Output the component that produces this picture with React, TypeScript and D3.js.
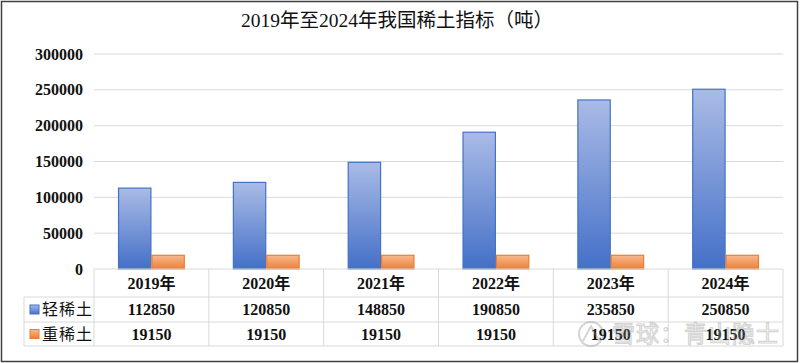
import React from 'react';
import * as d3 from 'd3';

const years = ['2019年', '2020年', '2021年', '2022年', '2023年', '2024年'];
const lightRE = [112850, 120850, 148850, 190850, 235850, 250850];
const heavyRE = [19150, 19150, 19150, 19150, 19150, 19150];
const seriesNames = ['轻稀土', '重稀土'];
const yTicks = [0, 50000, 100000, 150000, 200000, 250000, 300000];

const W = 800;
const H = 363;
const FONT = '"Liberation Serif", "Noto Sans CJK SC", serif';

const App: React.FC = () => {
  // plot frame
  const left = 94;
  const right = 783;
  const top = 54;
  const bottom = 269;

  const x = d3.scaleBand<string>().domain(years).range([left, right]);
  const inner = d3.scaleBand<string>().domain(seriesNames).range([0, x.bandwidth()]).paddingOuter(0.72).paddingInner(0);
  const y = d3.scaleLinear().domain([0, 300000]).range([bottom, top]);

  const rows = [
    { name: seriesNames[0], values: lightRE, color: '#4472c4' },
    { name: seriesNames[1], values: heavyRE, color: '#ed7d31' },
  ];

  // table rows
  const tHead = bottom;
  const tRow1 = 297;
  const tRow2 = 322;
  const tEnd = 346;
  const legendLeft = 24;
  const grid = '#d9d9d9';

  return (
    <svg width={W} height={H} style={{ position: 'absolute', left: 0, top: 0, background: '#fff' }} fontFamily={FONT}>
      <defs>
        <linearGradient id="gBlue" x1="0" y1="0" x2="0" y2="1">
          <stop offset="0%" stopColor="#aabbe6" />
          <stop offset="100%" stopColor="#4470c8" />
        </linearGradient>
        <linearGradient id="gOrange" x1="0" y1="0" x2="0" y2="1">
          <stop offset="0%" stopColor="#f6b98f" />
          <stop offset="100%" stopColor="#ee7f33" />
        </linearGradient>
      </defs>
      <rect x={1.5} y={1.5} width={W - 4} height={H - 3} fill="#fff" stroke="#404040" strokeWidth={1.5} />

      <text x={397} y={27} textAnchor="middle" fontSize={19.5} fill="#111">2019年至2024年我国稀土指标（吨）</text>

      {/* gridlines + y labels */}
      {yTicks.map(t => (
        <g key={t}>
          {t > 0 && <line x1={left} x2={right} y1={y(t)} y2={y(t)} stroke={grid} strokeWidth={1} />}
          <text x={83} y={y(t)} dy="0.35em" textAnchor="end" fontSize={16} fontWeight="bold" fill="#111">{t}</text>
        </g>
      ))}

      {/* bars */}
      {years.map((yr, i) => (
        <g key={yr} transform={`translate(${x(yr)},0)`}>
          {rows.map((r, j) => (
            <rect
              key={r.name}
              x={(inner(r.name) || 0) + 0.5}
              y={y(r.values[i])}
              width={inner.bandwidth() - 1}
              height={bottom - y(r.values[i])}
              fill={j === 0 ? 'url(#gBlue)' : 'url(#gOrange)'}
              stroke={r.color}
              strokeWidth={1.2}
            />
          ))}
        </g>
      ))}

      {/* data table */}
      <g stroke={grid} strokeWidth={1} fill="none">
        <line x1={left} x2={right} y1={tHead} y2={tHead} />
        <line x1={legendLeft} x2={right} y1={tRow1} y2={tRow1} />
        <line x1={legendLeft} x2={right} y1={tRow2} y2={tRow2} />
        <line x1={legendLeft} x2={right} y1={tEnd} y2={tEnd} />
        <line x1={legendLeft} x2={legendLeft} y1={tRow1} y2={tEnd} />
        {years.map(yr => (
          <line key={yr} x1={x(yr)} x2={x(yr)} y1={tHead} y2={tEnd} />
        ))}
        <line x1={right} x2={right} y1={tHead} y2={tEnd} />
      </g>
      {years.map((yr, i) => (
        <g key={yr} fontSize={16} fontWeight="bold" fill="#111" textAnchor="middle">
          <text x={(x(yr) || 0) + x.bandwidth() / 2} y={(tHead + tRow1) / 2} dy="0.35em">{yr}</text>
          <text x={(x(yr) || 0) + x.bandwidth() / 2} y={(tRow1 + tRow2) / 2} dy="0.35em">{lightRE[i]}</text>
          <text x={(x(yr) || 0) + x.bandwidth() / 2} y={(tRow2 + tEnd) / 2} dy="0.35em">{heavyRE[i]}</text>
        </g>
      ))}
      {rows.map((r, j) => {
        const cy = j === 0 ? (tRow1 + tRow2) / 2 : (tRow2 + tEnd) / 2;
        return (
          <g key={r.name}>
            <rect x={30} y={cy - 4.5} width={9} height={9} fill={j === 0 ? 'url(#gBlue)' : 'url(#gOrange)'} stroke={r.color} strokeWidth={1} />
            <text x={42} y={cy} dy="0.35em" fontSize={16} fill="#111" letterSpacing={1}>{r.name}</text>
          </g>
        );
      })}

      {/* watermark */}
      <g opacity={0.35}>
        <circle cx={591} cy={334} r={12} fill="none" stroke="#888" strokeWidth={2} />
        <path d="M583,341 L591,326 L599,341" fill="none" stroke="#888" strokeWidth={2} />
        <text x={612} y={342} fontSize={23} fill="#fff" stroke="#888" strokeWidth={1.2} fontFamily='"Noto Sans CJK SC", sans-serif' letterSpacing={1}>雪球：青山隐士</text>
      </g>
    </svg>
  );
};

export default App;
